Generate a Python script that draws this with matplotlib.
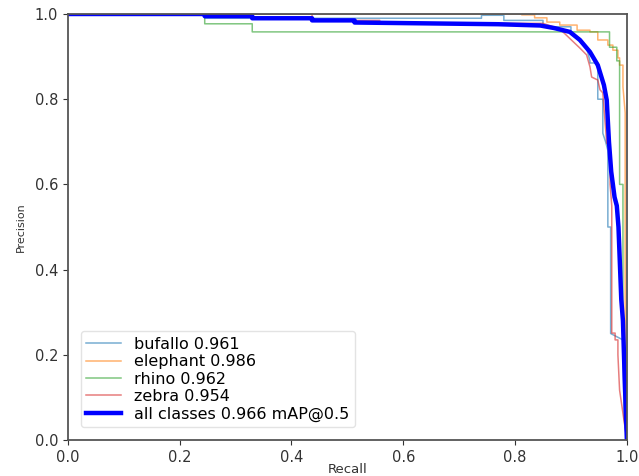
import matplotlib
matplotlib.use("Agg")
import matplotlib.pyplot as plt

# ---- data ----
buffalo_r = [0.0, 0.245, 0.245, 0.74, 0.74, 0.78, 0.78, 0.85, 0.85, 0.90, 0.90, 0.916, 0.928, 0.934, 0.934, 0.948, 0.948, 0.957, 0.957, 0.962, 0.966, 0.966, 0.971, 0.971, 0.993, 0.995, 1.0]
buffalo_p = [1.0, 1.0, 0.99, 0.99, 0.997, 0.997, 0.985, 0.985, 0.97, 0.97, 0.96, 0.935, 0.92, 0.89, 0.885, 0.885, 0.80, 0.80, 0.72, 0.70, 0.68, 0.50, 0.50, 0.25, 0.235, 0.05, 0.0]

elephant_r = [0.0, 0.812, 0.812, 0.835, 0.835, 0.857, 0.857, 0.880, 0.880, 0.911, 0.911, 0.934, 0.934, 0.948, 0.948, 0.966, 0.966, 0.975, 0.975, 0.984, 0.984, 0.987, 0.987, 0.993, 0.993, 0.997, 0.997, 1.0]
elephant_p = [1.0, 1.0, 0.998, 0.998, 0.991, 0.991, 0.981, 0.981, 0.974, 0.974, 0.962, 0.962, 0.958, 0.958, 0.939, 0.939, 0.927, 0.927, 0.915, 0.915, 0.897, 0.897, 0.880, 0.880, 0.829, 0.768, 0.16, 0.0]

rhino_r = [0.0, 0.245, 0.245, 0.33, 0.33, 0.969, 0.969, 0.982, 0.982, 0.987, 0.987, 0.993, 0.993, 1.0]
rhino_p = [1.0, 1.0, 0.977, 0.977, 0.958, 0.958, 0.922, 0.922, 0.89, 0.89, 0.60, 0.60, 0.23, 0.0]

zebra_r = [0.0, 0.437, 0.437, 0.558, 0.558, 0.85, 0.88, 0.916, 0.928, 0.934, 0.937, 0.948, 0.952, 0.957, 0.964, 0.970, 0.970, 0.973, 0.973, 0.979, 0.979, 0.984, 0.984, 0.987, 1.0]
zebra_p = [1.0, 1.0, 0.985, 0.985, 0.978, 0.978, 0.965, 0.920, 0.904, 0.876, 0.852, 0.845, 0.822, 0.815, 0.697, 0.688, 0.60, 0.55, 0.251, 0.251, 0.235, 0.235, 0.20, 0.117, 0.0]

all_r = [0.0, 0.245, 0.245, 0.33, 0.33, 0.437, 0.437, 0.513, 0.513, 0.77, 0.845, 0.87, 0.898, 0.916, 0.934, 0.948, 0.959, 0.964, 0.968, 0.972, 0.975, 0.978, 0.982, 0.985, 0.990, 0.993, 0.996, 1.0]
all_p = [1.0, 1.0, 0.995, 0.995, 0.99, 0.99, 0.985, 0.985, 0.98, 0.976, 0.973, 0.967, 0.958, 0.939, 0.911, 0.88, 0.833, 0.798, 0.70, 0.63, 0.60, 0.57, 0.55, 0.50, 0.33, 0.28, 0.15, 0.0]

labels = ["bufallo 0.961", "elephant 0.986", "rhino 0.962", "zebra 0.954", "all classes 0.966 mAP@0.5"]
ticks = [0.0, 0.2, 0.4, 0.6, 0.8, 1.0]

fig = plt.figure(figsize=(6.39, 4.76), dpi=100)
ax = fig.add_axes([0.106, 0.0756, 0.875, 0.895])

curves = [(buffalo_r, buffalo_p), (elephant_r, elephant_p), (rhino_r, rhino_p), (zebra_r, zebra_p)]
colors = ["#1f77b4", "#ff7f0e", "#2ca02c", "#d62728"]
for (r, p), c, lab in zip(curves, colors, labels[:4]):
    ax.plot(r, p, color=c, linewidth=1.1, alpha=0.6, label=lab)
ax.plot(all_r, all_p, color="#0000ff", linewidth=3.2, label=labels[4])

ax.set_xlim(0, 1)
ax.set_ylim(0, 1)
ax.set_xticks(ticks)
ax.set_yticks(ticks)
ax.tick_params(labelsize=10.5, colors="#333333", labelcolor="#333333")
for s in ax.spines.values():
    s.set_color("#555555")
    s.set_linewidth(1.3)
ax.set_xlabel("Recall", fontsize=9.5, color="#333333", labelpad=-1)
ax.set_ylabel("Precision", fontsize=8, color="#333333", labelpad=6)
ax.legend(loc="lower left", fontsize=11.5, frameon=True, borderaxespad=0.8,
          handlelength=2.2, labelspacing=0.15, borderpad=0.35, edgecolor="#dddddd")

fig.savefig("out.png", dpi=100)
